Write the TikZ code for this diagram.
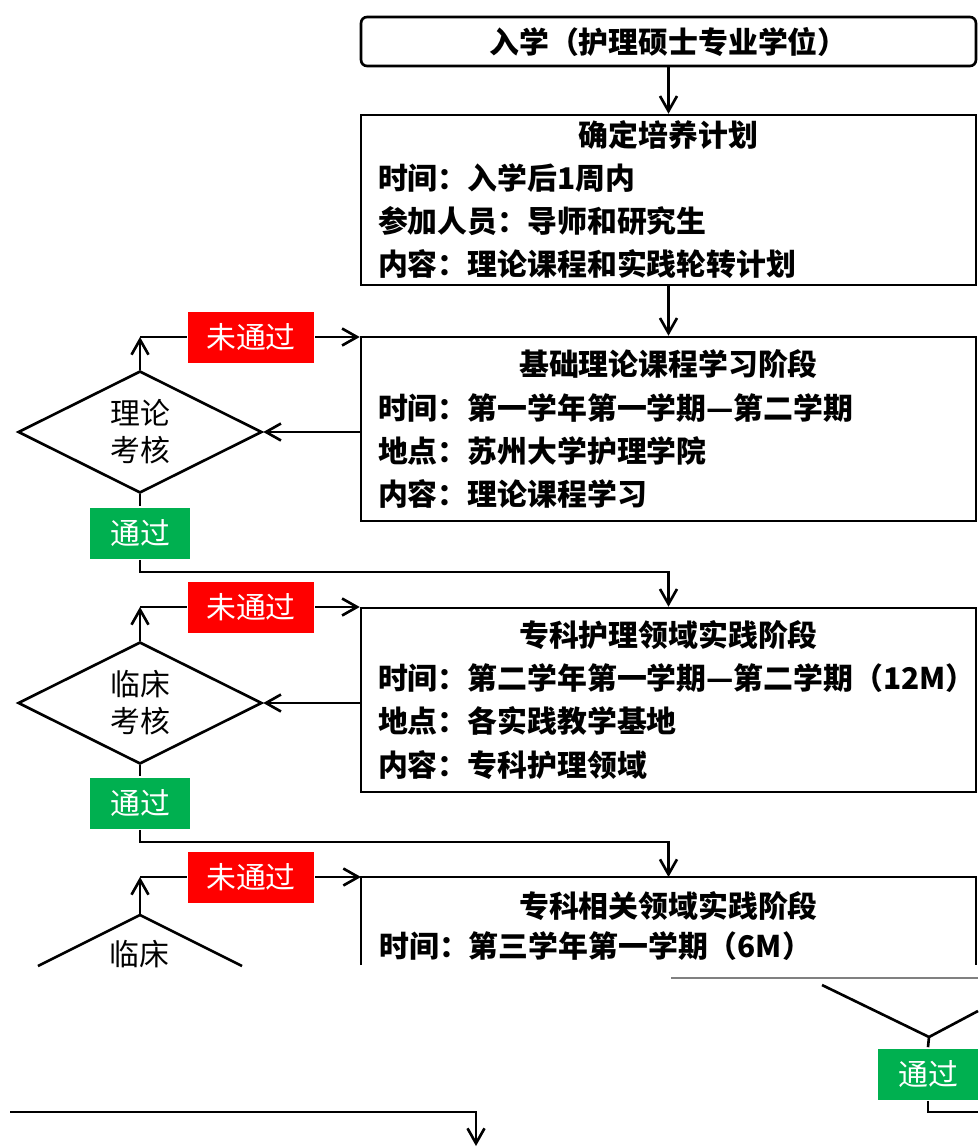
\documentclass[tikz,border=0pt]{standalone}
\usepackage{fontspec}
\setmainfont{Noto Sans CJK SC}
\usetikzlibrary{shapes.geometric, positioning, arrows.meta}
\definecolor{failred}{HTML}{FF0000}
\definecolor{passgreen}{HTML}{00B050}

\begin{document}
\begin{tikzpicture}[x=0.02cm,y=-0.02cm,line width=1.5pt,
   >={Straight Barb[length=3mm,width=3.4mm]},
   stage/.style={draw,rectangle,minimum width=12.3cm,text width=11.62cm,inner xsep=0.34cm,
                 align=left,font=\fontsize{17}{24.5}\selectfont\bfseries},
   start/.style={draw,rectangle,rounded corners=0.12cm,minimum width=12.3cm,minimum height=0.98cm,
                 font=\fontsize{17}{20}\selectfont\bfseries},
   check/.style={draw,diamond,aspect=2,minimum width=4.88cm,minimum height=2.44cm,inner sep=0pt,
                 align=center,font=\fontsize{17}{21}\selectfont},
   fail/.style={fill=failred,text=white,minimum width=2.52cm,minimum height=1.02cm,
                font=\fontsize{17}{20}\selectfont},
   pass/.style={fill=passgreen,text=white,minimum width=2cm,minimum height=1.02cm,
                font=\fontsize{17}{20}\selectfont},
   txt/.style={font=\fontsize{17}{20}\selectfont\bfseries,inner sep=0pt}]

   \useasboundingbox (0,0) rectangle (978,1147);

   % stages
   \node[start] (entry) at (668.5,41.5) {入学（护理硕士专业学位）};
   \node[stage,minimum height=3.4cm] (plan) at (668.5,200)
      {\makebox[\linewidth]{确定培养计划}\\
       \mbox{时间：入学后1周内}\\
       \mbox{参加人员：导师和研究生}\\
       \mbox{内容：理论课程和实践轮转计划}};
   \node[stage,minimum height=3.68cm] (theory) at (668.5,429)
      {\makebox[\linewidth]{基础理论课程学习阶段}\\
       \mbox{时间：第一学年第一学期—第二学期}\\
       \mbox{地点：苏州大学护理学院}\\
       \mbox{内容：理论课程学习}};
   \node[stage,minimum height=3.68cm] (clinic) at (668.5,700)
      {\makebox[\linewidth]{专科护理领域实践阶段}\\
       \mbox{时间：第二学年第一学期—第二学期（12M）}\\
       \mbox{地点：各实践教学基地}\\
       \mbox{内容：专科护理领域}};

   % third stage, cut off below
   \coordinate (b4nw) at (361,877);
   \coordinate (b4n)  at (668.5,877);
   \coordinate (b4ne) at (976,877);
   \draw (361,965) -- (b4nw) -- (b4ne) -- (976,965);
   \node[txt] (t4) at (668.5,906) {专科相关领域实践阶段};
   \node[txt,anchor=west] (l4) at (378,946) {时间：第三学年第一学期（6M）};

   % checks
   \node[check] (check1) at (140,432) {理论\\考核};
   \node[check] (check2) at (140,703) {临床\\考核};
   \coordinate (d3top) at (140,915);
   \draw (38,966) -- (d3top) -- (242,966);
   \node[font=\fontsize{17}{20}\selectfont,inner sep=0pt] (d3) at (139,954) {临床};

   \node[fail] (fail1) at (251,337) {未通过};
   \node[fail] (fail2) at (251,607) {未通过};
   \node[fail] (fail3) at (251,877) {未通过};
   \node[pass] (pass1) at (140,533) {通过};
   \node[pass] (pass2) at (140,803) {通过};
   \node[pass] (pass3) at (928,1074) {通过};

   \coordinate (j1) at (140,572);
   \coordinate (j2) at (140,842);

   \draw[->] (entry) -- (plan);
   \draw[->] (plan) -- (theory);

   \draw[->] (theory.west |- check1) -- (check1.east);
   \draw[->] (check1.north) -- (check1.north |- fail1);
   \draw (check1.north |- fail1) -- (fail1.west);
   \draw[->] (fail1.east) -- (fail1.east -| theory.west);
   \draw (check1.south) -- (pass1.north);
   \draw[->] (pass1.south) -- (j1) -| (clinic.north);

   \draw[->] (clinic.west |- check2) -- (check2.east);
   \draw[->] (check2.north) -- (check2.north |- fail2);
   \draw (check2.north |- fail2) -- (fail2.west);
   \draw[->] (fail2.east) -- (fail2.east -| clinic.west);
   \draw (check2.south) -- (pass2.north);
   \draw[->] (pass2.south) -- (j2) -| (b4n);

   \draw[->] (d3top) -- (d3top |- fail3);
   \draw (d3top |- fail3) -- (fail3.west);
   \draw[->] (fail3.east) -- (b4nw);

   % what is left of the lower part
   \draw[gray,line width=1pt] (671,978) -- (978,978);
   \coordinate (d4bot) at (929,1037);
   \draw (822,985) -- (d4bot) -- (978,1011);
   \draw (d4bot) -- (pass3.north);
   \coordinate (r4) at (978,1112);
   \draw (pass3.south) |- (r4);
   \coordinate (l5) at (10,1112);
   \coordinate (exit) at (476,1146);
   \draw[->] (l5) -| (exit);
\end{tikzpicture}
\end{document}
